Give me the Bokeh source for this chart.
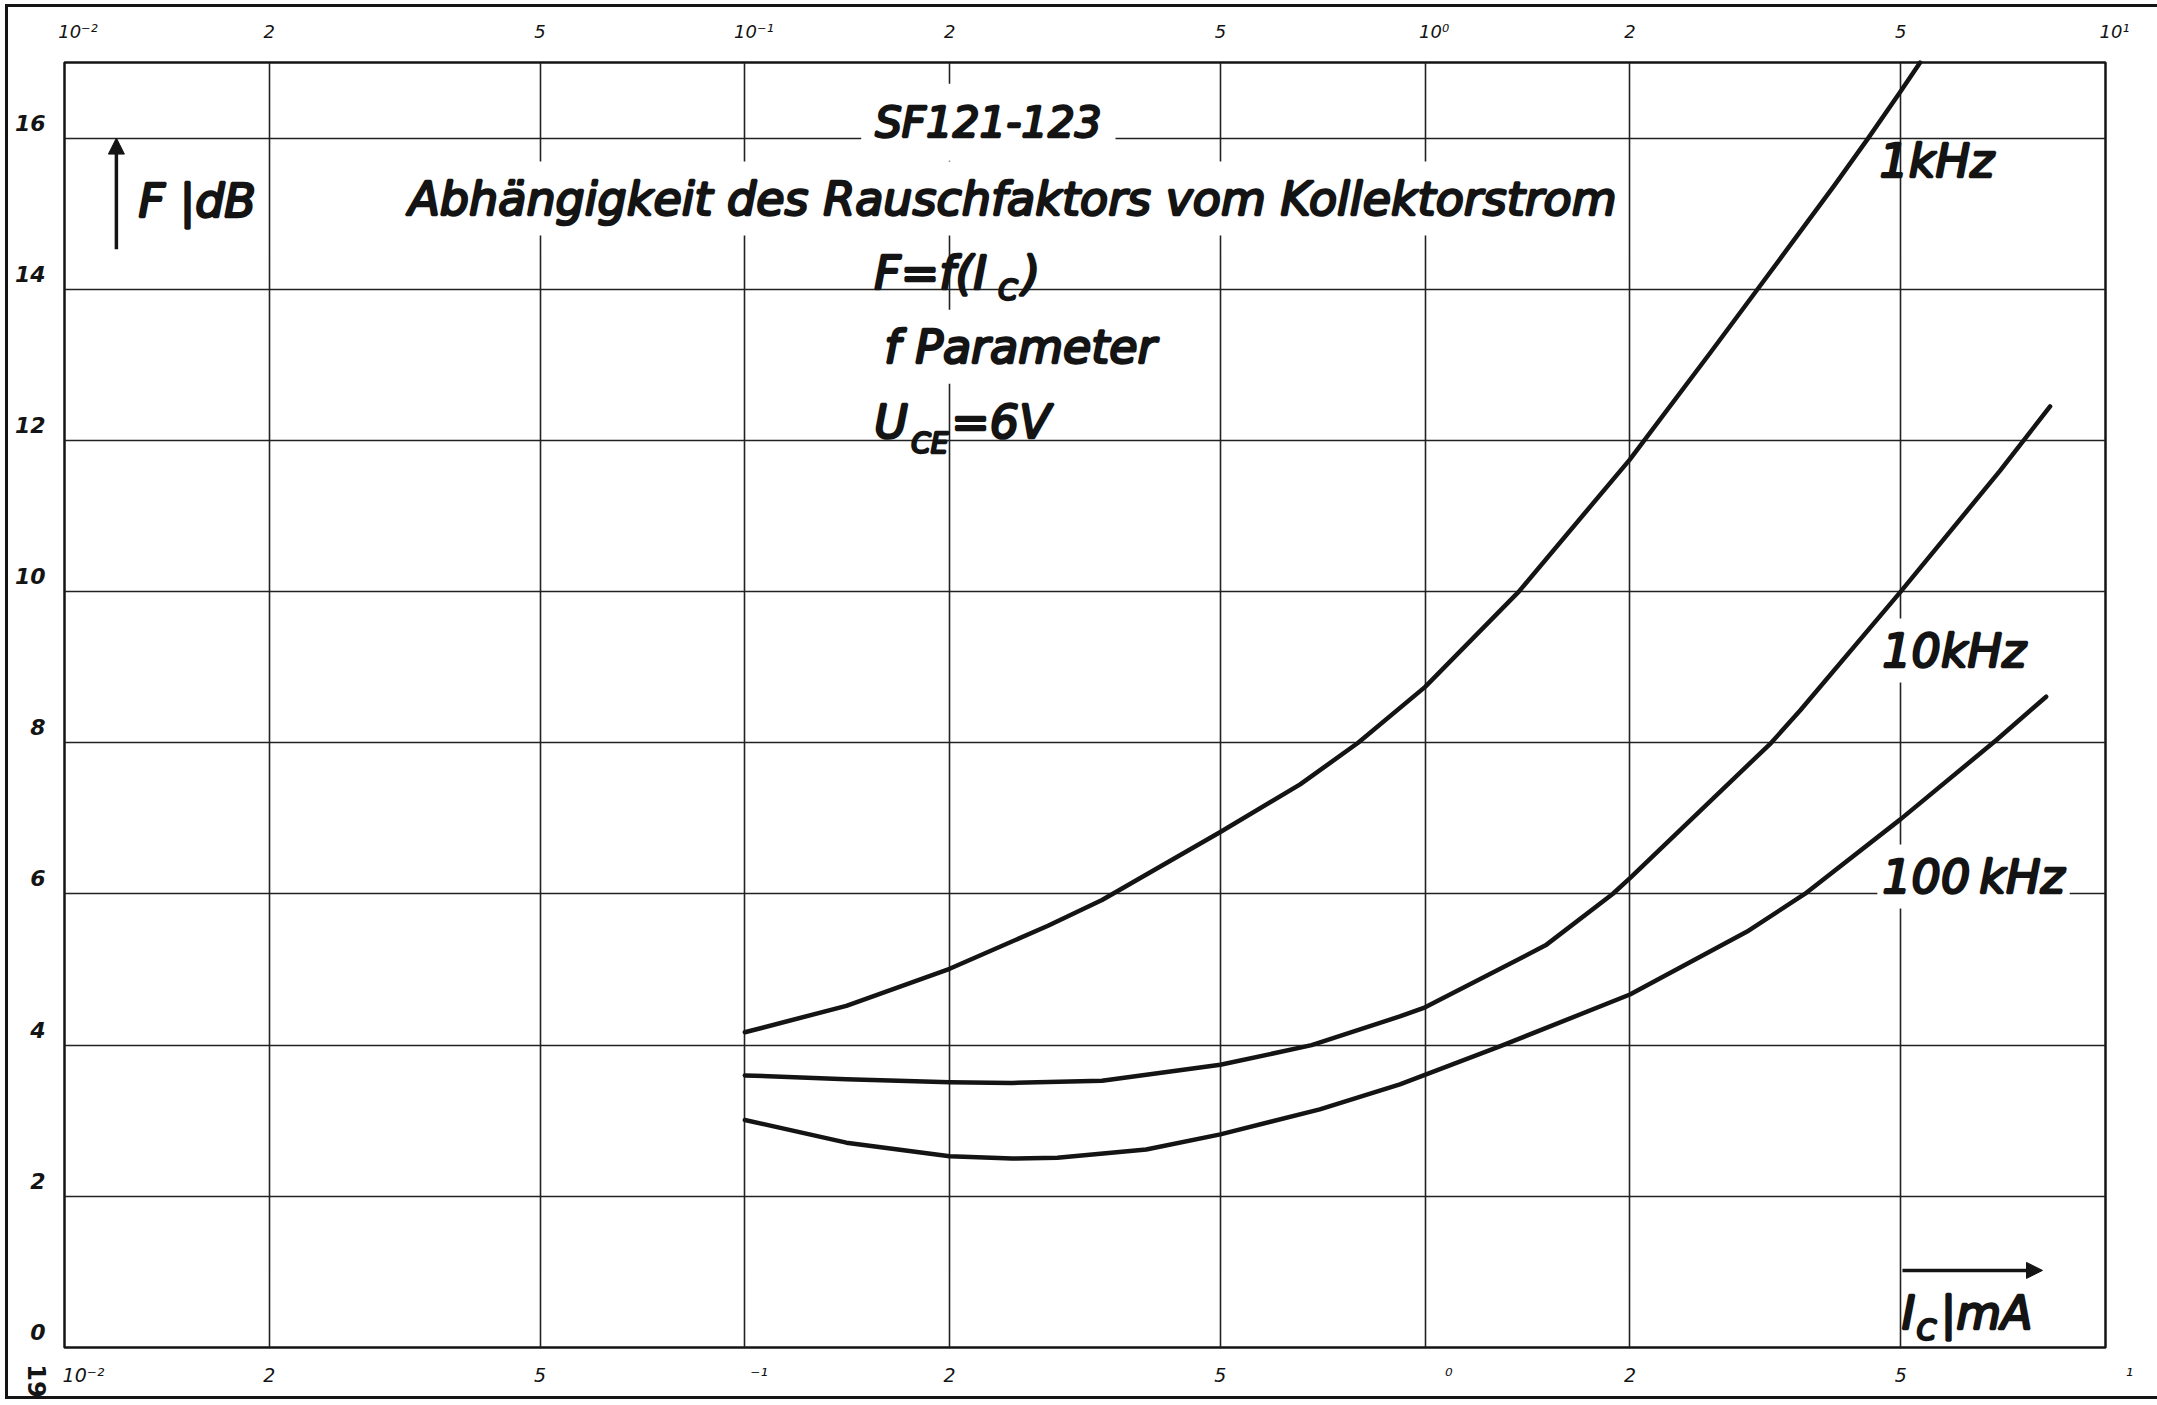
from bokeh.plotting import figure
from bokeh.models import LogAxis, FixedTicker, Label, Arrow, NormalHead, InlineStyleSheet
from bokeh.embed import file_html
from bokeh.resources import INLINE

# ---------------- data ----------------
x_ticks = [0.01, 0.02, 0.05, 0.1, 0.2, 0.5, 1.0, 2.0, 5.0, 10.0]
top_tick_labels = ["\u2002\u2002\u200210⁻²", "2", "5", "\u2002\u200210⁻¹", "2", "5",
                   "\u2002\u200210⁰", "2", "5", "\u2002\u200210¹"]
bottom_tick_labels = ["\u2002\u2002\u2002\u200210⁻²", "2", "5", "\u2002\u2002\u2002⁻¹", "2", "5",
                      "\u2002\u2002\u2002\u2002\u2002⁰", "2", "5", "\u2002\u2002\u2002\u2002\u2002¹"]
y_ticks = [0, 2, 4, 6, 8, 10, 12, 14, 16]
y_tick_labels = ["0\n", "2\n", "4\n", "6\n", "8\n", "10\n", "12\n", "14\n", "16\n"]

ic_1khz = [0.1, 0.141, 0.2, 0.279, 0.335, 0.5, 0.655, 0.797, 1.0, 1.373, 2.0, 2.63, 3.08, 4.0, 4.48, 5.0, 5.34]
f_1khz = [4.17, 4.52, 5.01, 5.58, 5.92, 6.82, 7.45, 8.0, 8.74, 10.0, 11.75, 13.17, 14.0, 15.38, 16.0, 16.62, 17.0]

ic_10khz = [0.1, 0.141, 0.2, 0.247, 0.335, 0.5, 0.681, 0.918, 1.0, 1.503, 1.886, 2.0, 3.226, 3.56, 5.0, 7.0, 8.29]
f_10khz = [3.60, 3.55, 3.51, 3.50, 3.53, 3.74, 4.0, 4.38, 4.50, 5.32, 6.0, 6.21, 8.0, 8.43, 10.0, 11.6, 12.45]

ic_100khz = [0.1, 0.141, 0.2, 0.247, 0.288, 0.389, 0.5, 0.7, 0.918, 1.293, 2.0, 2.969, 3.614, 5.0, 6.92, 8.18]
f_100khz = [3.01, 2.71, 2.53, 2.50, 2.51, 2.62, 2.82, 3.15, 3.48, 3.99, 4.67, 5.5, 6.0, 6.99, 8.04, 8.61]

INK = "#141414"
FONT = "DejaVu Sans"

p = figure(width=2157, height=1405, x_axis_type="log", x_range=(0.01, 10), y_range=(0, 17),
           output_backend="svg", toolbar_location=None, title=None,
           min_border_left=64, min_border_right=52, min_border_top=62, min_border_bottom=58)
p.background_fill_color = "white"
p.border_fill_color = "white"
p.outline_line_color = INK
p.outline_line_width = 2.5

xt = FixedTicker(ticks=x_ticks)
yt = FixedTicker(ticks=y_ticks)

p.xaxis.ticker = xt
p.xaxis.major_label_overrides = dict(zip(x_ticks, bottom_tick_labels))
p.yaxis.ticker = yt
p.yaxis.major_label_overrides = dict(zip(y_ticks, y_tick_labels))

for ax in (p.xaxis[0], p.yaxis[0]):
    ax.axis_line_color = None
    ax.major_tick_line_color = None
    ax.minor_tick_line_color = None
    ax.major_tick_out = 0
    ax.major_tick_in = 0
    ax.major_label_text_font = FONT
    ax.major_label_text_color = INK

p.xaxis.major_label_text_font_size = "19px"
p.xaxis.major_label_text_font_style = "italic"
p.xaxis.major_label_standoff = 16
p.yaxis.major_label_text_font_size = "22px"
p.yaxis.major_label_text_font_style = "bold italic"
p.yaxis.major_label_standoff = 19

top = LogAxis(ticker=FixedTicker(ticks=x_ticks),
              major_label_overrides=dict(zip(x_ticks, top_tick_labels)),
              axis_line_color=None, major_tick_line_color=None, minor_tick_line_color=None,
              major_tick_out=0, major_tick_in=0, major_label_standoff=21,
              major_label_text_font=FONT, major_label_text_font_size="18px",
              major_label_text_font_style="italic", major_label_text_color=INK)
p.add_layout(top, "above")

p.xgrid.ticker = xt
p.ygrid.ticker = yt
p.xgrid.grid_line_color = "#222222"
p.ygrid.grid_line_color = "#222222"
p.xgrid.grid_line_width = 1.6
p.ygrid.grid_line_width = 1.6

# ---------------- curves ----------------
for xs, ys in ((ic_1khz, f_1khz), (ic_10khz, f_10khz), (ic_100khz, f_100khz)):
    r = p.line(xs, ys, line_color=INK, line_width=4.5, line_join="round", line_cap="round")
    r.level = "overlay"

# ---------------- texts (y = visual centre of the capitals) ----------------
def lab(text, x, y, size="46px", align="left", bg=None, xo=0, style="italic", pad=0, alpha=1.0):
    kw = dict(x=x, y=y, text=text, text_font=FONT, text_font_size=size,
              text_font_style=style, text_color=INK, text_alpha=alpha, text_align=align,
              text_baseline="middle", x_offset=xo)
    if alpha > 0:
        kw.update(text_outline_color=INK)
    if bg:
        kw.update(background_fill_color=bg, padding=pad)
    p.add_layout(Label(**kw))

# white gaps behind the text block (invisible text used only for its box)
lab("F=f(IC) ", 0.155, 14.22, bg="white", pad=12, alpha=0.0)
lab("UCE=6", 0.155, 12.24, bg="white", pad=12, alpha=0.0)

lab("SF121-123", 0.228, 16.21, size="42px", align="center", bg="white", pad=14)
lab("Abhängigkeit des Rauschfaktors vom Kollektorstrom", 0.2474, 15.2, align="center",
    bg="white", pad=10)
lab("F=f(I", 0.155, 14.22)
lab("C", 0.155, 13.98, size="28px", xo=124)
lab(")", 0.155, 14.22, xo=148)
lab("f Parameter", 0.155, 13.24, bg="white", pad=10)
lab("U", 0.155, 12.24)
lab("CE", 0.155, 11.96, size="28px", xo=37)
lab("=6V", 0.155, 12.24, xo=77)

lab("F |dB", 0.01285, 15.17)
lab("1kHz", 4.655, 15.7)
lab("10kHz", 4.62, 9.22, bg="white", pad=5)
lab("100\u2009kHz", 4.62, 6.23, bg="white", pad=5)

lab("I", 5.0, 0.45, xo=1)
lab("C", 5.0, 0.225, size="28px", xo=16)
lab("|mA", 5.0, 0.45, xo=40)

# axis arrows
p.add_layout(Arrow(end=NormalHead(size=16, fill_color=INK, line_color=INK, line_width=1),
                   x_start=0.01192, y_start=14.53, x_end=0.01192, y_end=16.0,
                   line_color=INK, line_width=3.5))
p.add_layout(Arrow(end=NormalHead(size=16, fill_color=INK, line_color=INK, line_width=1),
                   x_start=5.03, y_start=1.02, x_end=8.08, y_end=1.02,
                   line_color=INK, line_width=3.5))

# outer page frame (left, top, bottom edges) and the rotated page number
p.stylesheets = [InlineStyleSheet(css="""
:host { position: relative; }
:host::after {
  content: ""; position: absolute; left: 5px; top: 4px; width: 2152px; height: 1395px;
  border-left: 3px solid #141414; border-top: 3px solid #141414; border-bottom: 3px solid #141414;
  box-sizing: border-box; pointer-events: none; z-index: 10;
}
:host::before {
  content: "19"; position: absolute; left: 19px; top: 1368px; width: 34px; height: 26px;
  font: bold 24px "DejaVu Sans"; line-height: 26px; text-align: center; color: #141414;
  transform: rotate(90deg); transform-origin: 50% 50%; pointer-events: none; z-index: 10;
}
""")]

open("out.html", "w").write(file_html(p, INLINE))
